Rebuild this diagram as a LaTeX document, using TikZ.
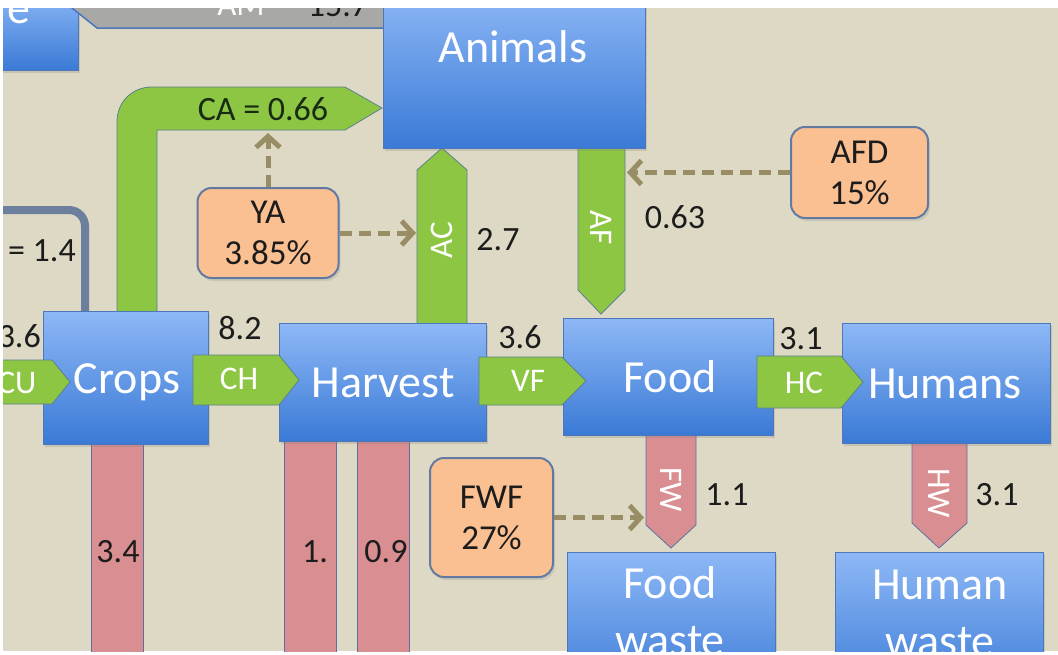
\documentclass[tikz,border=0pt]{standalone}
\usepackage{fontspec}
\setmainfont{Carlito}
\usetikzlibrary{arrows.meta,shadows,calc}
\definecolor{bgbeige}{RGB}{221,217,196}
\definecolor{bluetop}{RGB}{142,184,246}
\definecolor{bluebot}{RGB}{58,122,214}
\definecolor{blueedge}{RGB}{78,118,186}
\definecolor{flowgreen}{RGB}{141,198,67}
\definecolor{greenedge}{RGB}{92,128,140}
\definecolor{flowpink}{RGB}{217,142,146}
\definecolor{pinkedge}{RGB}{96,110,160}
\definecolor{orangefill}{RGB}{250,192,146}
\definecolor{orangeedge}{RGB}{98,122,162}
\definecolor{khaki}{RGB}{152,141,100}
\definecolor{slateline}{RGB}{108,128,158}
\definecolor{graybar}{RGB}{168,168,166}
\definecolor{darktext}{RGB}{28,28,28}
\definecolor{catext}{RGB}{24,44,18}
\begin{document}
\begin{tikzpicture}[x=1pt,y=-1pt,
  bluebox/.style={draw=blueedge, line width=1pt, top color=bluetop, bottom color=bluebot,
    drop shadow={shadow xshift=2pt,shadow yshift=-3pt,opacity=0.25}},
  boxtext/.style={text=white, font=\fontsize{46}{54}\selectfont, inner sep=0pt, anchor=base},
  greenflow/.style={fill=flowgreen, draw=greenedge, line width=0.8pt},
  pinkflow/.style={fill=flowpink, draw=pinkedge, line width=0.8pt},
  flowtext/.style={text=white, font=\fontsize{33}{38}\selectfont, inner sep=0pt},
  numtext/.style={text=darktext, font=\fontsize{34}{40}\selectfont, inner sep=0pt},
  orangebox/.style={fill=orangefill, draw=orangeedge, line width=2pt, rounded corners=14pt,
    align=center, text=darktext, font=\fontsize{35}{41}\selectfont,
    drop shadow={shadow xshift=2pt,shadow yshift=-3pt,opacity=0.2}},
  dasharrow/.style={draw=khaki, line width=5pt, dash pattern=on 12pt off 7pt,
    -{Straight Barb[length=11pt,width=24pt]}},
]
\useasboundingbox (0,0) rectangle (1058,654);
\fill[white] (0,0) rectangle (1058,654);
\fill[bgbeige] (3,8) rectangle (1058,651);
\begin{scope}
\clip (3,8) rectangle (1058,651);
% top-left partial box and AM flow
\path[bluebox] (-10,-10) rectangle (78,70);
\node[boxtext, anchor=base west] (tlT) at (7,23) {e};
\path[fill=graybar, draw=blueedge, line width=1.5pt] (72,8) -- (97,28) -- (395,28) -- (395,-5) -- (72,-5) -- cycle;
\node[flowtext, anchor=base] (amT) at (241,15) {AM};
\node[numtext, anchor=base] (amV) at (338,16) {15.7};
% slate line into crops
\draw[slateline, line width=8pt, rounded corners=16pt] (-5,210) -- (85,210) -- (85,316);
\node[numtext, anchor=east] (curV) at (76,251) {= 1.4};
% CA flow
\path[greenflow] (117,316) -- (117,122) .. controls (117,102) and (132,87) .. (152,87)
  -- (345,87) -- (382,108) -- (345,130) -- (157,130) -- (157,316) -- cycle;
\node[numtext, text=catext] (caT) at (263,109) {CA = 0.66};
% AC and AF flows
\path[greenflow] (417,326) -- (417,170) -- (442,148) -- (467,170) -- (467,326) -- cycle;
\node[flowtext, rotate=90] (acT) at (442,240) {AC};
\node[numtext] (acV) at (498,240) {2.7};
\path[greenflow] (578,146) -- (578,290) -- (601,314) -- (625,290) -- (625,146) -- cycle;
\node[flowtext, rotate=-90] (afT) at (601,228) {AF};
\node[numtext] (afV) at (675,217) {0.63};
% pink outflows
\path[pinkflow] (91,430) rectangle (143,660);
\path[pinkflow] (284,430) rectangle (336,660);
\path[pinkflow] (357,430) rectangle (409,660);
\node[numtext] (cwV) at (118,552) {3.4};
\node[numtext] (h1V) at (315,552) {1.};
\node[numtext] (h2V) at (386,552) {0.9};
\path[pinkflow] (646,430) -- (646,525) -- (671,548) -- (696,525) -- (696,430) -- cycle;
\node[flowtext, rotate=-90] (fwT) at (671,490) {FW};
\node[numtext] (fwV) at (727,495) {1.1};
\path[pinkflow] (912,438) -- (912,523) -- (939,548) -- (967,523) -- (967,438) -- cycle;
\node[flowtext, rotate=-90] (hwT) at (939,493) {HW};
\node[numtext] (hwV) at (997,495) {3.1};
% boxes
\node[bluebox, minimum width=262pt, minimum height=160pt] (animals) at (514,68) {};
\node[boxtext] (animalsT) at (513,62) {Animals};
\node[bluebox, minimum width=165pt, minimum height=133pt] (crops) at (125.5,377.5) {};
\node[boxtext] (cropsT) at (127,393) {Crops};
\node[bluebox, minimum width=207pt, minimum height=118pt] (harvest) at (382.5,382) {};
\node[boxtext] (harvestT) at (383,397) {Harvest};
\node[bluebox, minimum width=210pt, minimum height=117pt] (food) at (668,376.5) {};
\node[boxtext] (foodT) at (670,392) {Food};
\node[bluebox, minimum width=208pt, minimum height=120pt] (humans) at (946,383) {};
\node[boxtext] (humansT) at (945,398) {Humans};
\node[bluebox, minimum width=208pt, minimum height=148pt] (foodwaste) at (671,626) {};
\node[boxtext] (fwaT) at (670,598) {Food};
\node[boxtext] (fwbT) at (670,655) {waste};
\node[bluebox, minimum width=208pt, minimum height=148pt] (humanwaste) at (939,626) {};
\node[boxtext] (hwaT) at (940,599) {Human};
\node[boxtext] (hwbT) at (940,656) {waste};
% horizontal flows
\path[greenflow] (-5,360) -- (52,360) -- (70,382) -- (52,404) -- (-5,404) -- cycle;
\node[flowtext] (cuT) at (17,383) {CU};
\node[numtext, anchor=east] (cuV) at (41,336) {3.6};
\path[greenflow] (193,355) -- (279,355) -- (299,380) -- (279,405) -- (193,405) -- cycle;
\node[flowtext] (chT) at (239,379) {CH};
\node[numtext] (chV) at (240,328) {8.2};
\path[greenflow] (479,357) -- (562,357) -- (586,381) -- (562,405) -- (479,405) -- cycle;
\node[flowtext] (vfT) at (528,381) {VF};
\node[numtext] (vfV) at (520,337) {3.6};
\path[greenflow] (757,356) -- (841,356) -- (863,382) -- (841,408) -- (757,408) -- cycle;
\node[flowtext] (hcT) at (804,383) {HC};
\node[numtext] (hcV) at (801,339) {3.1};
% parameter boxes
\node[orangebox, minimum width=141pt, minimum height=90pt] (ya) at (268,233) {YA\\3.85\%};
\node[orangebox, minimum width=137pt, minimum height=91pt] (afd) at (859.5,172.5) {AFD\\15\%};
\node[orangebox, minimum width=123pt, minimum height=119pt] (fwf) at (491.5,517.5) {FWF\\27\%};
% dashed influence arrows
\coordinate (cabot) at (268,133);
\coordinate (acedge) at (416,233);
\coordinate (afedge) at (627,172.5);
\coordinate (fwedge) at (644,517.5);
\draw[dasharrow] (ya.north) -- (cabot);
\draw[dasharrow] (ya.east) -- (acedge);
\draw[dasharrow] (afd.west) -- (afedge);
\draw[dasharrow] (fwf.east) -- (fwedge);
\end{scope}
\end{tikzpicture}
\end{document}
